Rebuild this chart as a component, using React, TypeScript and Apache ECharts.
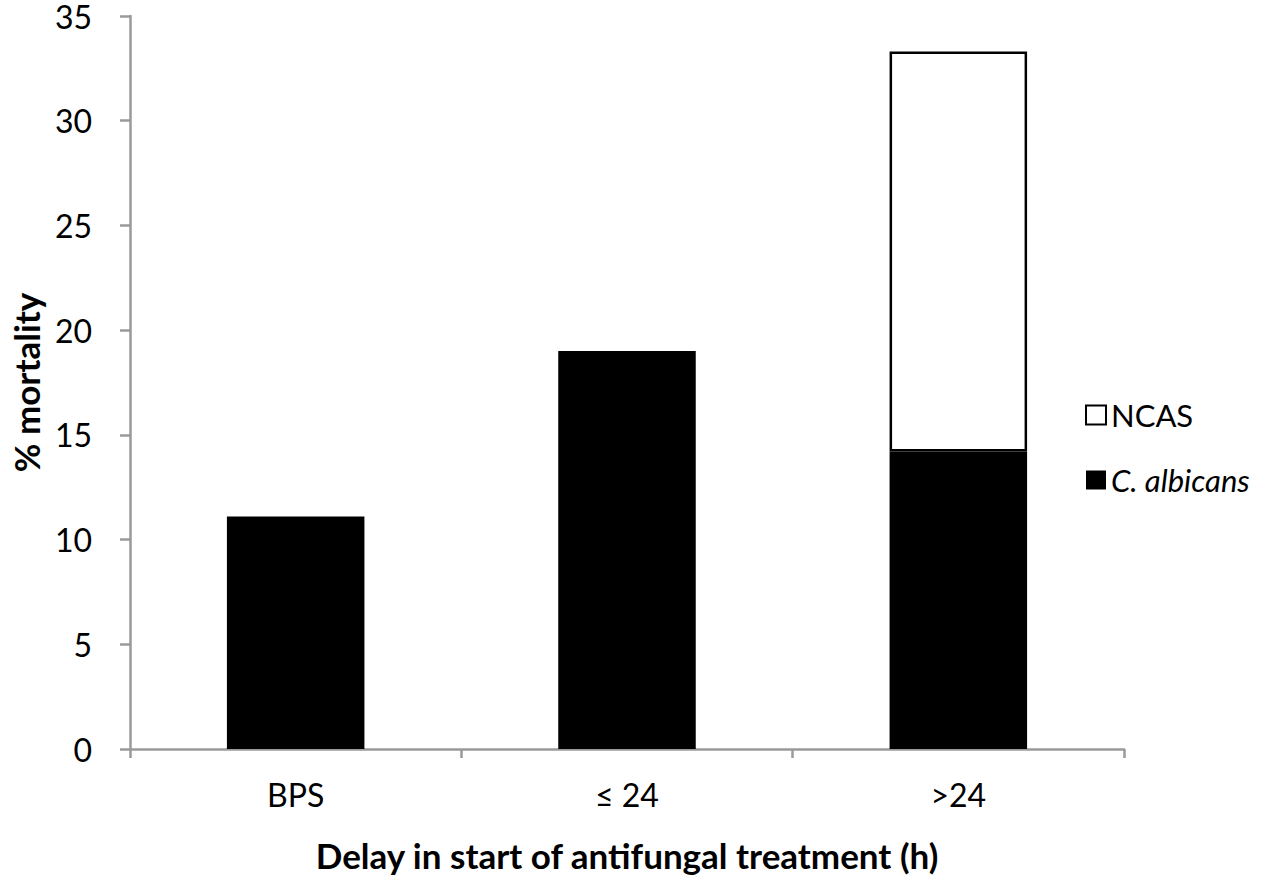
import React, { useEffect, useRef } from "react";
import * as echarts from "echarts";

const categories = ["BPS", "≤ 24", ">24"];
const albicansValues = [11.1, 19.0, 14.2];
const ncasValues: (number | string)[] = ["-", "-", 19.1];
const yTicks = { min: 0, max: 35, interval: 5 };

const FONT = "Lato";

export default function App() {
  const ref = useRef<HTMLDivElement>(null);
  useEffect(() => {
    if (!ref.current) return;
    const chart = echarts.init(ref.current, null, { renderer: "svg" });
    const axisGray = "#9a9a9a";
    chart.setOption({
      animation: false,
      backgroundColor: "#ffffff",
      textStyle: { fontFamily: FONT, color: "#000" },
      grid: { left: 128, right: 143, top: 15, bottom: 137, containLabel: false },
      legend: {
        orient: "vertical",
        left: 1080,
        top: 392,
        icon: "rect",
        itemWidth: 20,
        itemHeight: 19,
        itemGap: 29,
        data: ["NCAS", "C. albicans"],
        formatter: (name: string) => (name === "C. albicans" ? "{i|C. albicans}" : name),
        textStyle: {
          fontFamily: FONT,
          fontSize: 31,
          color: "#000",
          lineHeight: 36,
          rich: { i: { fontStyle: "italic", fontFamily: FONT, fontSize: 31, color: "#000", lineHeight: 36 } },
        },
      },
      xAxis: {
        type: "category",
        data: categories,
        boundaryGap: true,
        axisLine: { show: true, lineStyle: { color: axisGray, width: 2.5 } },
        axisTick: { show: true, alignWithLabel: false, length: 9, lineStyle: { color: axisGray, width: 2.5 } },
        axisLabel: { fontFamily: FONT, fontSize: 32, color: "#000", margin: 29 },
        name: "Delay in start of antifungal treatment (h)",
        nameLocation: "middle",
        nameGap: 88,
        nameTextStyle: { fontFamily: FONT, fontSize: 35, fontWeight: "bold", color: "#000" },
      },
      yAxis: {
        type: "value",
        min: yTicks.min,
        max: yTicks.max,
        interval: yTicks.interval,
        splitLine: { show: false },
        axisLine: { show: true, lineStyle: { color: axisGray, width: 2.5 } },
        axisTick: { show: true, length: 10, lineStyle: { color: axisGray, width: 2.5 } },
        axisLabel: { fontFamily: FONT, fontSize: 32, color: "#000", margin: 38, lineHeight: 28 },
        name: "% mortality",
        nameLocation: "middle",
        nameGap: 87,
        nameRotate: 90,
        nameTextStyle: { fontFamily: FONT, fontSize: 35, fontWeight: "bold", color: "#000" },
      },
      series: [
        {
          name: "C. albicans",
          type: "bar",
          stack: "total",
          barWidth: "41.5%",
          data: albicansValues,
          itemStyle: { color: "#000000" },
        },
        {
          name: "NCAS",
          type: "bar",
          stack: "total",
          barWidth: "41.5%",
          data: ncasValues,
          itemStyle: { color: "#ffffff", borderColor: "#000000", borderWidth: 2.5 },
        },
      ],
    });
    return () => chart.dispose();
  }, []);
  return (
    <div
      ref={ref}
      style={{ position: "absolute", left: 0, top: 0, width: 1267, height: 886, background: "#fff" }}
    />
  );
}
